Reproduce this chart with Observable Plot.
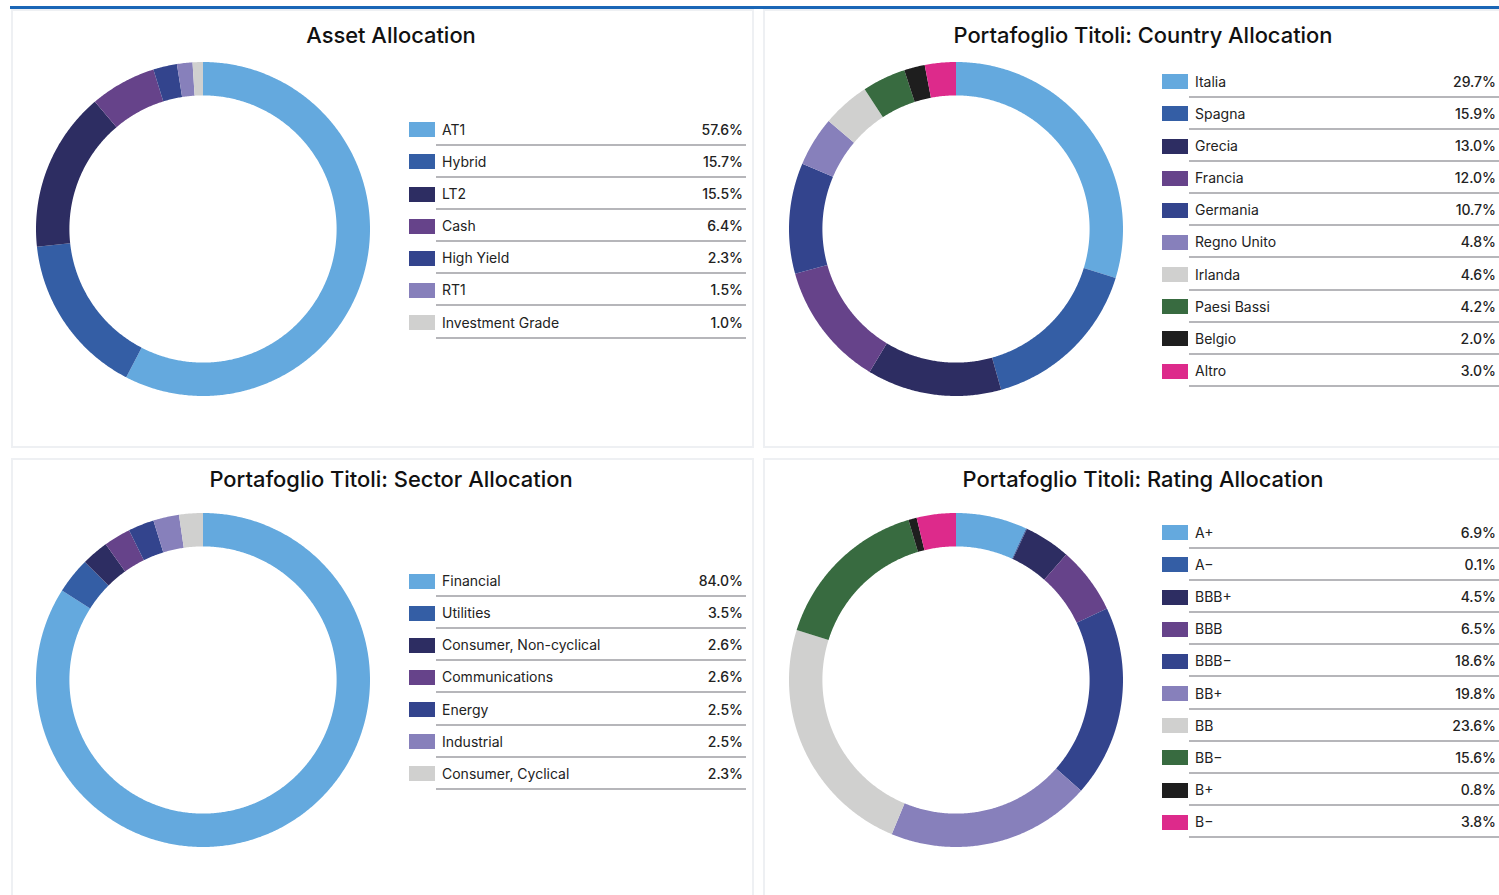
<!DOCTYPE html>
<html><head><meta charset="utf-8">
<script src="https://cdn.jsdelivr.net/npm/d3@7"></script>
<script src="https://cdn.jsdelivr.net/npm/@observablehq/plot@0.6"></script>
<style>
html,body{margin:0;padding:0;background:#fff}
body{font-family:Inter,"Noto Sans",sans-serif;overflow:hidden;width:1499px;height:895px;position:relative}
.topline{position:absolute;left:10px;top:6px;width:1489px;height:2.5px;background:#1a66b6}
.panel{position:absolute;border:2.5px solid #eef0f3;box-sizing:border-box;background:#fff}
.title{position:absolute;transform:translateX(-50%);font-size:21.9px;line-height:24px;font-weight:500;color:#111;white-space:nowrap}
.donut{position:absolute}
.sw{position:absolute;width:26px;height:15px}
.lab{position:absolute;font-size:14px;line-height:18px;color:#222;white-space:nowrap}
.val{position:absolute;font-size:14px;line-height:18px;color:#222;font-weight:500;white-space:nowrap;text-align:right}
.ln{position:absolute;height:2px;background:#b6b6ba}
</style>
</head><body>
<div class="topline"></div>
<script>
// ---- data ----
const assetLabels = ["AT1","Hybrid","LT2","Cash","High Yield","RT1","Investment Grade"];
const assetValues = [57.6,15.7,15.5,6.4,2.3,1.5,1.0];
const countryLabels = ["Italia","Spagna","Grecia","Francia","Germania","Regno Unito","Irlanda","Paesi Bassi","Belgio","Altro"];
const countryValues = [29.7,15.9,13.0,12.0,10.7,4.8,4.6,4.2,2.0,3.0];
const sectorLabels = ["Financial","Utilities","Consumer, Non-cyclical","Communications","Energy","Industrial","Consumer, Cyclical"];
const sectorValues = [84.0,3.5,2.6,2.6,2.5,2.5,2.3];
const ratingLabels = ["A+","A\u2212","BBB+","BBB","BBB\u2212","BB+","BB","BB\u2212","B+","B\u2212"];
const ratingValues = [6.9,0.1,4.5,6.5,18.6,19.8,23.6,15.6,0.8,3.8];
const titles = ["Asset Allocation","Portafoglio Titoli: Country Allocation","Portafoglio Titoli: Sector Allocation","Portafoglio Titoli: Rating Allocation"];

// ---- styles ----
const palette10 = ["#64a9de","#345ea5","#2d2d62","#66438a","#33448d","#8780bb","#d0d0cf","#386b40","#1e1e1e","#dd2a8b"];
const RIN = 0.80;

function el(cls, css, text){
  const d = document.createElement("div");
  d.className = cls;
  Object.assign(d.style, css);
  if (text !== undefined) d.textContent = text;
  document.body.appendChild(d);
  return d;
}

function donut(labels, values){
  const total = d3.sum(values);
  let acc = 0;
  const pts = [];
  labels.forEach((name, i) => {
    const a0 = acc / total * 2 * Math.PI; acc += values[i];
    const a1 = acc / total * 2 * Math.PI;
    const n = Math.max(2, Math.ceil((a1 - a0) / (Math.PI / 360)));
    for (let k = 0; k <= n; k++) pts.push({name, a: a0 + (a1 - a0) * k / n});
  });
  return Plot.plot({
    width: 340, height: 340, margin: 3,
    x: {domain: [-1, 1], axis: null},
    y: {domain: [-1, 1], axis: null},
    color: {domain: labels, range: palette10.slice(0, labels.length)},
    marks: [
      Plot.area(pts, {
        x1: d => Math.sin(d.a), y1: d => Math.cos(d.a),
        x2: d => RIN * Math.sin(d.a), y2: d => RIN * Math.cos(d.a),
        z: "name", fill: "name", curve: "linear"
      })
    ]
  });
}

const panels = [
  {labels: assetLabels, values: assetValues, box: [11, 9, 743, 439], cx: 203, cy: 229, tx: 391, ty: 35,
   swX: 409, labX: 442, valR: 743, l1: 436, l2: 746, first: 129.7},
  {labels: countryLabels, values: countryValues, box: [763, 9, 760, 439], cx: 956, cy: 229, tx: 1143, ty: 35,
   swX: 1162, labX: 1195, valR: 1496, l1: 1189, l2: 1499, first: 81.7},
  {labels: sectorLabels, values: sectorValues, box: [11, 458, 743, 460], cx: 203, cy: 680, tx: 391, ty: 479,
   swX: 409, labX: 442, valR: 743, l1: 436, l2: 746, first: 581},
  {labels: ratingLabels, values: ratingValues, box: [763, 458, 760, 460], cx: 956, cy: 680, tx: 1143, ty: 479,
   swX: 1162, labX: 1195, valR: 1496, l1: 1189, l2: 1499, first: 532.8}
];
const pitch = 32.15;

panels.forEach((p, pi) => {
  el("panel", {left: p.box[0] + "px", top: p.box[1] + "px", width: p.box[2] + "px", height: p.box[3] + "px"});
  el("title", {left: p.tx + "px", top: (p.ty - 12) + "px"}, titles[pi]);
  const svg = donut(p.labels, p.values);
  const wrap = el("donut", {left: (p.cx - 170) + "px", top: (p.cy - 170) + "px"});
  wrap.appendChild(svg);
  p.labels.forEach((name, i) => {
    const c = p.first + i * pitch;
    el("sw", {left: p.swX + "px", top: (c - 7.5) + "px", background: palette10[i]});
    el("lab", {left: p.labX + "px", top: (c - 9) + "px"}, name);
    el("val", {left: (p.valR - 80) + "px", width: "80px", top: (c - 9) + "px"}, p.values[i].toFixed(1) + "%");
    el("ln", {left: p.l1 + "px", width: (p.l2 - p.l1) + "px", top: (c + 14) + "px"});
  });
});
</script>
</body></html>
